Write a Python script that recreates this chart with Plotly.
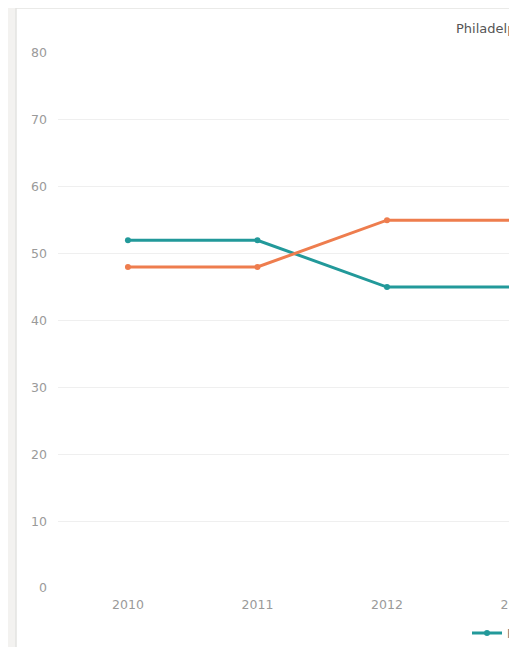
import plotly.graph_objects as go

years = ["2010", "2011", "2012", "2013"]
teal_values = [52, 52, 45, 45]
orange_values = [48, 48, 55, 55]
teal_name = "Philadelphia"
orange_name = "Pennsylvania"
title_text = "Philadelphia"
y_ticks = [0, 10, 20, 30, 40, 50, 60, 70, 80]

# page body has an 8px margin; figure coords = screen coords - 8
W, H = 509, 639
L, R, T, B = 50, 0, 45, 59
pw, ph = W - L - R, H - T - B

def px(x):
    return (x - L) / pw

def py(y):
    return (H - B - y) / ph

TEAL = "#22999a"
ORANGE = "#ee7d4e"
FONT = "DejaVu Sans"

fig = go.Figure()
fig.add_trace(go.Scatter(x=years, y=teal_values, name=teal_name, mode="lines+markers",
                         line=dict(color=TEAL, width=3), marker=dict(size=6, color=TEAL),
                         cliponaxis=False))
fig.add_trace(go.Scatter(x=years, y=orange_values, name=orange_name, mode="lines+markers",
                         line=dict(color=ORANGE, width=3), marker=dict(size=6, color=ORANGE),
                         cliponaxis=False))

fig.update_layout(
    width=W, height=H,
    margin=dict(l=L, r=R, t=T, b=B, pad=0, autoexpand=False),
    paper_bgcolor="#f3f2f0",
    plot_bgcolor="rgba(0,0,0,0)",
    font=dict(family=FONT, size=12, color="#9a9a9a"),
    showlegend=True,
    legend=dict(orientation="h", xref="container", yref="container",
                x=459 / W, y=(H - 625) / H, xanchor="left", yanchor="middle",
                font=dict(size=12, color="#777"), bgcolor="rgba(0,0,0,0)"),
    xaxis=dict(type="category", range=[-0.54, 3.004], showgrid=False, zeroline=False,
               showline=False, ticks="", ticklabelstandoff=7, automargin=False,
               tickfont=dict(size=12.5, color="#9a9a9a")),
    yaxis=dict(range=[0, 80], tickvals=y_ticks, showgrid=True, gridcolor="#efefef",
               gridwidth=1, zeroline=False, showline=False, ticks="", ticklabelstandoff=10,
               automargin=False, tickfont=dict(size=12.5, color="#9a9a9a")),
    shapes=[dict(type="rect", xref="paper", yref="paper", x0=px(8), x1=px(540),
                 y0=py(642), y1=py(0), fillcolor="white",
                 line=dict(color="#e4e3e1", width=1.5), layer="below")],
    annotations=[dict(text=title_text, xref="paper", yref="paper", x=px(446), y=py(20),
                      xanchor="left", yanchor="middle", showarrow=False,
                      font=dict(family=FONT, size=13, color="#555"))],
)

fig.write_html("out.html")
